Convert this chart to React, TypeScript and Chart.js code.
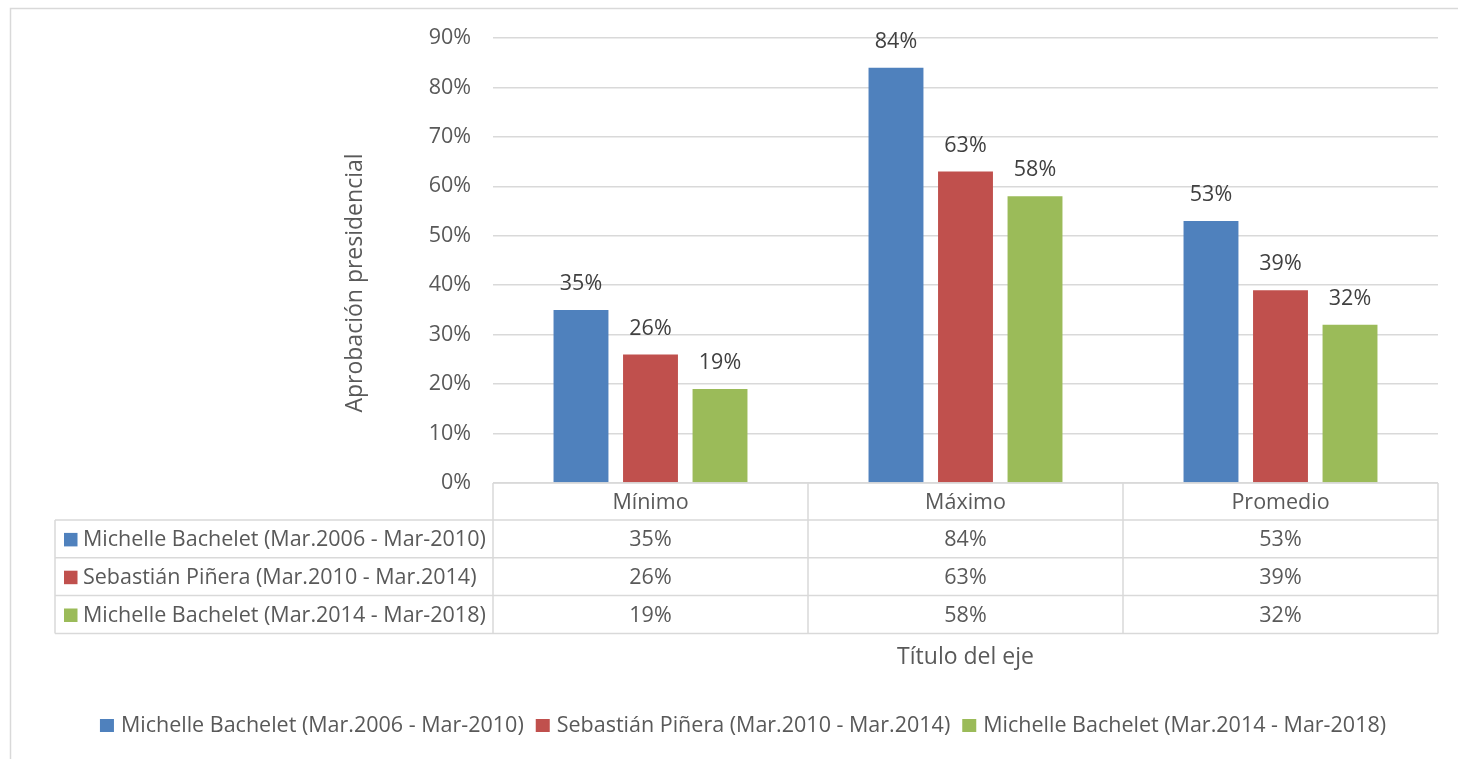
import React, { useEffect, useRef } from "react";
import { Chart, registerables } from "chart.js";

Chart.register(...registerables);

const categories = ["Mínimo", "Máximo", "Promedio"];
const seriesLabels = [
  "Michelle Bachelet (Mar.2006 - Mar-2010)",
  "Sebastián Piñera (Mar.2010 - Mar.2014)",
  "Michelle Bachelet (Mar.2014 - Mar-2018)",
];
const bachelet2006 = [35, 84, 53];
const pinera2010 = [26, 63, 39];
const bachelet2014 = [19, 58, 32];
const seriesColors = ["#4f81bd", "#c0504d", "#9bbb59"];
const yMin = 0;
const yMax = 90;
const yStep = 10;
const yAxisTitle = "Aprobación presidencial";
const xAxisTitle = "Título del eje";

const FONT = "'Open Sans', sans-serif";
const LABEL_SIZE = 21.5;
const LINE = "#d9d9d9";
const TEXT = "#595959";

const W = 1458;
const H = 759;

const overlayPlugin = {
  id: "overlay",
  beforeDraw(chart: any) {
    const ctx = chart.ctx;
    ctx.save();
    ctx.fillStyle = "#ffffff";
    ctx.fillRect(0, 0, W, H);
    ctx.strokeStyle = LINE;
    ctx.lineWidth = 1.5;
    ctx.beginPath();
    ctx.moveTo(10.5, H);
    ctx.lineTo(10.5, 8.5);
    ctx.lineTo(W, 8.5);
    ctx.stroke();
    ctx.restore();
  },
  afterDraw(chart: any) {
    const ctx = chart.ctx;
    const area = chart.chartArea;
    const xs = chart.scales.x;
    ctx.save();

    // data labels
    ctx.font = `${LABEL_SIZE}px ${FONT}`;
    ctx.fillStyle = "#404040";
    ctx.textAlign = "center";
    ctx.textBaseline = "middle";
    chart.data.datasets.forEach((ds: any, di: number) => {
      const meta = chart.getDatasetMeta(di);
      meta.data.forEach((el: any, i: number) => {
        ctx.fillText(`${ds.data[i]}%`, el.x, el.y - 26);
      });
    });

    // data table
    const n = categories.length;
    const colW = (xs.right - xs.left) / n;
    const tableLeft = 55;
    const top = area.bottom;
    const rowH = [37, 37.8, 37.8, 37.8];
    const rowY: number[] = [top];
    rowH.forEach((h, i) => rowY.push(rowY[i] + h));

    ctx.strokeStyle = LINE;
    ctx.lineWidth = 1.5;
    ctx.beginPath();
    ctx.moveTo(xs.left, rowY[0]);
    ctx.lineTo(xs.right, rowY[0]);
    for (let r = 1; r < rowY.length; r++) {
      ctx.moveTo(tableLeft, rowY[r]);
      ctx.lineTo(xs.right, rowY[r]);
    }
    for (let c = 0; c <= n; c++) {
      const x = xs.left + c * colW;
      ctx.moveTo(x, rowY[0]);
      ctx.lineTo(x, rowY[rowY.length - 1]);
    }
    ctx.moveTo(tableLeft, rowY[1]);
    ctx.lineTo(tableLeft, rowY[rowY.length - 1]);
    ctx.stroke();

    ctx.font = `${LABEL_SIZE}px ${FONT}`;
    ctx.fillStyle = TEXT;
    ctx.textAlign = "center";
    ctx.textBaseline = "middle";
    categories.forEach((c, i) => {
      ctx.fillText(c, xs.getPixelForValue(i), (rowY[0] + rowY[1]) / 2 + 1);
    });
    chart.data.datasets.forEach((ds: any, di: number) => {
      const cy = (rowY[di + 1] + rowY[di + 2]) / 2 + 1;
      ctx.fillStyle = ds.backgroundColor;
      ctx.fillRect(64, cy - 7, 13.5, 13.5);
      ctx.fillStyle = TEXT;
      ctx.textAlign = "left";
      ctx.fillText(ds.label, 83, cy);
      ctx.textAlign = "center";
      ds.data.forEach((v: number, i: number) => {
        ctx.fillText(`${v}%`, xs.getPixelForValue(i), cy);
      });
    });

    // axis titles
    ctx.font = `23px ${FONT}`;
    ctx.fillStyle = TEXT;
    ctx.textAlign = "center";
    ctx.textBaseline = "middle";
    ctx.fillText(xAxisTitle, (xs.left + xs.right) / 2, 657);
    ctx.save();
    ctx.translate(355, 283);
    ctx.rotate(-Math.PI / 2);
    ctx.fillText(yAxisTitle, 0, 0);
    ctx.restore();

    // legend
    ctx.font = `${LABEL_SIZE}px ${FONT}`;
    const box = 14;
    const gap = 7;
    const spacing = 12;
    const widths = chart.data.datasets.map((ds: any) => ctx.measureText(ds.label).width);
    const total =
      widths.reduce((a: number, b: number) => a + b, 0) +
      widths.length * (box + gap) +
      (widths.length - 1) * spacing;
    let lx = 743 - total / 2;
    const ly = 726;
    ctx.textAlign = "left";
    chart.data.datasets.forEach((ds: any, di: number) => {
      ctx.fillStyle = ds.backgroundColor;
      ctx.fillRect(lx, ly - 7, box, box - 1);
      ctx.fillStyle = TEXT;
      ctx.fillText(ds.label, lx + box + gap, ly);
      lx += box + gap + widths[di] + spacing;
    });

    ctx.restore();
  },
};

export default function App() {
  const ref = useRef<HTMLCanvasElement | null>(null);
  useEffect(() => {
    if (!ref.current) return;
    const seriesData = [bachelet2006, pinera2010, bachelet2014];
    const chart = new Chart(ref.current, {
      type: "bar",
      data: {
        labels: categories,
        datasets: seriesData.map((d, i) => ({
          label: seriesLabels[i],
          data: d,
          backgroundColor: seriesColors[i],
          borderWidth: 0,
          categoryPercentage: 0.662,
          barPercentage: 0.79,
        })),
      },
      options: {
        responsive: false,
        animation: false,
        devicePixelRatio: 1,
        layout: { padding: { top: 38, right: 20, left: 0, bottom: 0 } },
        plugins: {
          legend: { display: false },
          tooltip: { enabled: false },
          title: { display: false },
        },
        scales: {
          x: {
            grid: { display: false },
            border: { display: false },
            ticks: { display: false },
            afterFit(scale: any) {
              scale.height = H - 483;
            },
          },
          y: {
            min: yMin,
            max: yMax,
            border: { display: false },
            grid: { color: LINE, lineWidth: 1.5, drawTicks: false },
            ticks: {
              stepSize: yStep,
              padding: 22,
              color: TEXT,
              font: { family: FONT, size: LABEL_SIZE },
              callback: (v: any) => `${v}%`,
            },
            afterFit(scale: any) {
              scale.width = 493;
            },
          },
        },
      },
      plugins: [overlayPlugin],
    });
    return () => chart.destroy();
  }, []);
  return (
    <div style={{ position: "absolute", left: 0, top: 0, width: W, height: H }}>
      <canvas ref={ref} width={W} height={H} style={{ width: W, height: H, display: "block" }} />
    </div>
  );
}
